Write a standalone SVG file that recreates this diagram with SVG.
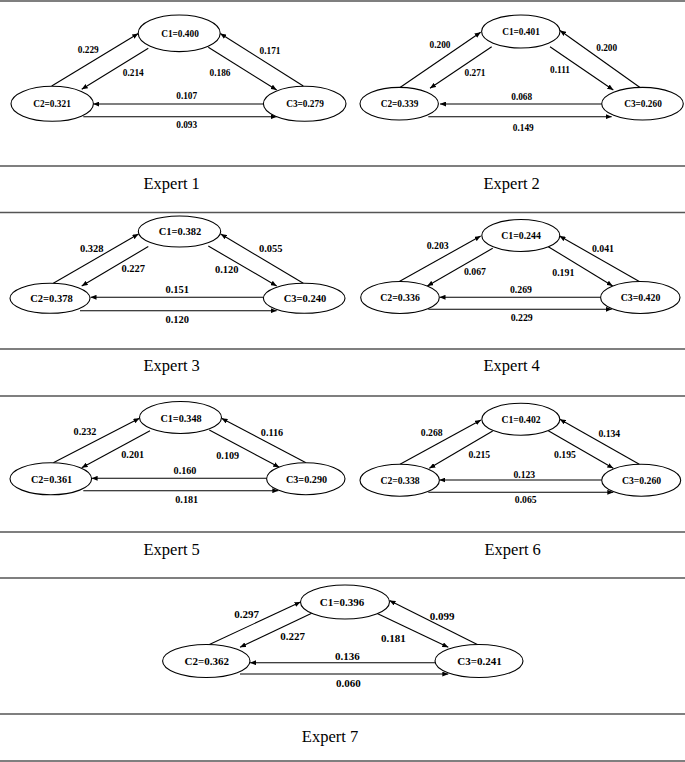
<svg xmlns="http://www.w3.org/2000/svg" width="685" height="762" viewBox="0 0 685 762">
<style>
.sep{stroke:#555;stroke-width:1.5}
.node ellipse{fill:#fff;stroke:#000;stroke-width:1.1}
text{font-family:"Liberation Serif","Times New Roman",serif;text-anchor:middle;fill:#000}
.lb{font-weight:bold}
.title{font-size:16.5px}
.edges path{fill:none;stroke:#000;stroke-width:1.1;marker-end:url(#ah)}
.f93{font-size:9.3px}.f98{font-size:9.8px}.f102{font-size:10.2px}.f97{font-size:9.7px}.f105{font-size:10.5px}.f11{font-size:11px}
</style>
<defs>
<marker id="ah" markerUnits="userSpaceOnUse" markerWidth="6" markerHeight="5" refX="6" refY="2.5" orient="auto">
<path d="M0,0 L6,2.5 L0,5 z" fill="#000"/>
</marker>
</defs>
<rect width="685" height="762" fill="#fff"/>
<g id="separators">
<line class="sep" x1="0" y1="1" x2="685" y2="1"/>
<line class="sep" x1="0" y1="166" x2="685" y2="166"/>
<line class="sep" x1="0" y1="212.5" x2="685" y2="212.5"/>
<line class="sep" x1="0" y1="349" x2="685" y2="349"/>
<line class="sep" x1="0" y1="396" x2="685" y2="396"/>
<line class="sep" x1="0" y1="532" x2="685" y2="532"/>
<line class="sep" x1="0" y1="578" x2="685" y2="578"/>
<line class="sep" x1="0" y1="714" x2="685" y2="714"/>
<line class="sep" x1="0" y1="761" x2="685" y2="761"/>
</g>

<!-- Expert 1 -->
<g id="e1-edges" class="edges">
<path d="M51.7,86 L138.3,33.5"/>
<path d="M148.3,48.3 L81.7,89.3"/>
<path d="M208.3,47.3 L276.7,90"/>
<path d="M303.3,86 L220.2,33.5"/>
<path d="M263.3,104 L93.3,104"/>
<path d="M83.3,116.7 L276.7,116.7"/>
</g>
<g id="e1-c1" class="node"><ellipse cx="179.2" cy="33.3" rx="41" ry="18.3"/><text class="lb f93" x="180" y="36.5">C1=0.400</text></g>
<g id="e1-c2" class="node"><ellipse cx="52.2" cy="103.8" rx="41.2" ry="17.5"/><text class="lb f93" x="52" y="107">C2=0.321</text></g>
<g id="e1-c3" class="node"><ellipse cx="304.7" cy="103.8" rx="41.3" ry="17.5"/><text class="lb f93" x="305" y="107">C3=0.279</text></g>
<g id="e1-labels" class="lb f93">
<text x="88.3" y="53.2">0.229</text>
<text x="133.3" y="76">0.214</text>
<text x="220" y="76">0.186</text>
<text x="270" y="53.5">0.171</text>
<text x="186.7" y="99.2">0.107</text>
<text x="186.7" y="128.2">0.093</text>
</g>
<text class="title" x="171.7" y="189">Expert 1</text>

<!-- Expert 2 -->
<g id="e2-edges" class="edges">
<path d="M400,87.5 L480.7,32.3"/>
<path d="M491.7,46.7 L430,88.3"/>
<path d="M550,46.7 L613.3,90"/>
<path d="M640,87.5 L560,30.5"/>
<path d="M601.7,104 L440,104"/>
<path d="M428.3,116.7 L611.7,116.7"/>
</g>
<g id="e2-c1" class="node"><ellipse cx="520.8" cy="31.5" rx="39.2" ry="16.5"/><text class="lb f93" x="521" y="35">C1=0.401</text></g>
<g id="e2-c2" class="node"><ellipse cx="399.2" cy="103.7" rx="39.2" ry="16.3"/><text class="lb f93" x="399.5" y="107">C2=0.339</text></g>
<g id="e2-c3" class="node"><ellipse cx="642.5" cy="103.7" rx="40.8" ry="16.3"/><text class="lb f93" x="643" y="107">C3=0.260</text></g>
<g id="e2-labels" class="lb f93">
<text x="440" y="48.2">0.200</text>
<text x="475" y="76">0.271</text>
<text x="560" y="73.2">0.111</text>
<text x="606.7" y="50.5">0.200</text>
<text x="521.7" y="100">0.068</text>
<text x="523.3" y="131">0.149</text>
</g>
<text class="title" x="511.7" y="189">Expert 2</text>

<!-- Expert 3 -->
<g id="e3-edges" class="edges">
<path d="M53.3,283.3 L138.5,234"/>
<path d="M148.3,246.5 L81.7,286"/>
<path d="M208.3,246 L276.7,286"/>
<path d="M303.3,283.3 L220.7,234"/>
<path d="M263.3,297.3 L90.5,297.3"/>
<path d="M80,310.7 L276.7,310.7"/>
</g>
<g id="e3-c1" class="node"><ellipse cx="179.5" cy="231.5" rx="41.2" ry="15.5"/><text class="lb f105" x="180" y="235.2">C1=0.382</text></g>
<g id="e3-c2" class="node"><ellipse cx="50" cy="298.3" rx="40" ry="15"/><text class="lb f105" x="51.5" y="302">C2=0.378</text></g>
<g id="e3-c3" class="node"><ellipse cx="304.2" cy="298.3" rx="40.8" ry="15"/><text class="lb f105" x="305" y="302">C3=0.240</text></g>
<g id="e3-labels" class="lb f105">
<text x="91.7" y="252">0.328</text>
<text x="133.3" y="272">0.227</text>
<text x="226.7" y="273">0.120</text>
<text x="270.7" y="252">0.055</text>
<text x="177.3" y="293">0.151</text>
<text x="177.3" y="323">0.120</text>
</g>
<text class="title" x="171.7" y="370.5">Expert 3</text>

<!-- Expert 4 -->
<g id="e4-edges" class="edges">
<path d="M399.3,281.5 L480.7,236"/>
<path d="M492.7,248.3 L427.3,286"/>
<path d="M548.3,246.7 L612.7,286"/>
<path d="M639.3,281.5 L559.5,236"/>
<path d="M600.7,297.3 L439.5,297.3"/>
<path d="M428.3,309.3 L611.7,309.3"/>
</g>
<g id="e4-c1" class="node"><ellipse cx="520.8" cy="235.5" rx="39" ry="16"/><text class="lb f98" x="521" y="239">C1=0.244</text></g>
<g id="e4-c2" class="node"><ellipse cx="400" cy="297.5" rx="39.3" ry="16"/><text class="lb f98" x="400" y="301">C2=0.336</text></g>
<g id="e4-c3" class="node"><ellipse cx="640.3" cy="297.5" rx="39.7" ry="16"/><text class="lb f98" x="640.5" y="301">C3=0.420</text></g>
<g id="e4-labels" class="lb f98">
<text x="437.7" y="249">0.203</text>
<text x="475" y="274.5">0.067</text>
<text x="563.3" y="276">0.191</text>
<text x="603" y="252">0.041</text>
<text x="521" y="292.5">0.269</text>
<text x="521.7" y="320.8">0.229</text>
</g>
<text class="title" x="511.7" y="371">Expert 4</text>

<!-- Expert 5 -->
<g id="e5-edges" class="edges">
<path d="M53.3,462.8 L139.5,418.3"/>
<path d="M150,430.7 L81.7,467.7"/>
<path d="M209.3,430 L279.3,467.3"/>
<path d="M306,462.8 L221.5,418.3"/>
<path d="M266.7,478.3 L91.6,478.3"/>
<path d="M83.3,490.7 L278.3,490.7"/>
</g>
<g id="e5-c1" class="node"><ellipse cx="180.5" cy="417.5" rx="41" ry="16"/><text class="lb f102" x="181" y="421.7">C1=0.348</text></g>
<g id="e5-c2" class="node"><ellipse cx="50.8" cy="478.8" rx="40.8" ry="16"/><text class="lb f102" x="51.5" y="482.5">C2=0.361</text></g>
<g id="e5-c3" class="node"><ellipse cx="305.8" cy="478.8" rx="39.2" ry="16"/><text class="lb f102" x="306.5" y="482.5">C3=0.290</text></g>
<g id="e5-labels" class="lb f102">
<text x="85" y="435">0.232</text>
<text x="132.7" y="457.5">0.201</text>
<text x="227.7" y="458.5">0.109</text>
<text x="272" y="435.5">0.116</text>
<text x="185" y="474">0.160</text>
<text x="186.7" y="502.8">0.181</text>
</g>
<text class="title" x="171.7" y="554.5">Expert 5</text>

<!-- Expert 6 -->
<g id="e6-edges" class="edges">
<path d="M400,464.2 L481,420"/>
<path d="M492.7,431 L429.3,468.3"/>
<path d="M548.3,430.7 L613.3,468.3"/>
<path d="M639.3,464.2 L559.8,419.3"/>
<path d="M601.7,480 L439.4,480"/>
<path d="M428.3,492.3 L613.3,492.3"/>
</g>
<g id="e6-c1" class="node"><ellipse cx="520.8" cy="419.2" rx="39" ry="16"/><text class="lb f97" x="521" y="422.8">C1=0.402</text></g>
<g id="e6-c2" class="node"><ellipse cx="399.7" cy="480.2" rx="39.7" ry="16"/><text class="lb f97" x="400" y="483.5">C2=0.338</text></g>
<g id="e6-c3" class="node"><ellipse cx="641.2" cy="480.2" rx="39.5" ry="16"/><text class="lb f97" x="641.5" y="483.5">C3=0.260</text></g>
<g id="e6-labels" class="lb f97">
<text x="431.7" y="436">0.268</text>
<text x="479.3" y="457.5">0.215</text>
<text x="565" y="457.5">0.195</text>
<text x="609.3" y="436.5">0.134</text>
<text x="524.3" y="477.5">0.123</text>
<text x="525.7" y="502.5">0.065</text>
</g>
<text class="title" x="512.7" y="554.5">Expert 6</text>

<!-- Expert 7 -->
<g id="e7-edges" class="edges">
<path d="M208.3,645 L300.5,602"/>
<path d="M311.7,613.3 L240,647.3"/>
<path d="M376.7,613.3 L448.3,647.3"/>
<path d="M478.3,645 L389.5,600.5"/>
<path d="M435,662.7 L250,662.7"/>
<path d="M240,674 L448.3,674"/>
</g>
<g id="e7-c1" class="node"><ellipse cx="345" cy="602" rx="44.5" ry="17"/><text class="lb f11" x="342" y="606">C1=0.396</text></g>
<g id="e7-c2" class="node"><ellipse cx="206.3" cy="661" rx="43.7" ry="16.5"/><text class="lb f11" x="206.7" y="665">C2=0.362</text></g>
<g id="e7-c3" class="node"><ellipse cx="479" cy="661" rx="44" ry="16.5"/><text class="lb f11" x="479.5" y="665">C3=0.241</text></g>
<g id="e7-labels" class="lb f11">
<text x="246.7" y="618">0.297</text>
<text x="292.7" y="639.5">0.227</text>
<text x="393.3" y="641.5">0.181</text>
<text x="442" y="620">0.099</text>
<text x="347.3" y="660">0.136</text>
<text x="348.3" y="686.5">0.060</text>
</g>
<text class="title" x="330" y="741.5">Expert 7</text>
</svg>
